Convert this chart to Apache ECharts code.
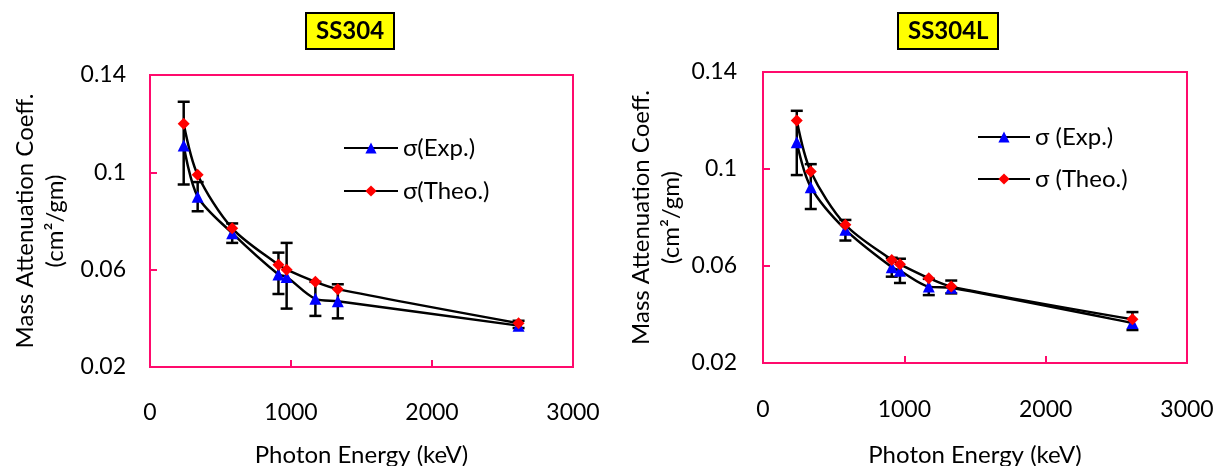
<!DOCTYPE html>
<html>
<head>
<meta charset="utf-8">
<script src="https://cdn.jsdelivr.net/npm/echarts@6/dist/echarts.min.js"></script>
<style>
  html, body { margin: 0; padding: 0; background: #fff; }
  #chart { width: 1221px; height: 466px; }
</style>
</head>
<body>
<div id="chart"></div>
<script>
// photon energies (keV), same for both samples
const energy = [239, 338, 583, 911, 969, 1173, 1332, 2614];

// SS304
const ss304Exp = [0.111, 0.090, 0.075, 0.058, 0.057, 0.048, 0.047, 0.037];
const ss304ExpLow = [0.095, 0.084, 0.071, 0.050, 0.044, 0.041, 0.040, 0.036];
const ss304ExpHigh = [0.129, 0.096, 0.079, 0.067, 0.071, 0.055, 0.054, 0.039];
const ss304Theo = [0.120, 0.099, 0.077, 0.062, 0.060, 0.055, 0.052, 0.038];

// SS304L
const ss304LExp = [0.111, 0.0925, 0.075, 0.0595, 0.058, 0.0515, 0.051, 0.0365];
const ss304LExpLow = [0.0975, 0.0835, 0.0705, 0.0556, 0.053, 0.048, 0.0487, 0.0336];
const ss304LExpHigh = [0.124, 0.102, 0.079, 0.0634, 0.063, 0.0547, 0.054, 0.041];
const ss304LTheo = [0.120, 0.099, 0.077, 0.0625, 0.0607, 0.055, 0.0515, 0.038];

const xTicks = [0, 1000, 2000, 3000];
const yTicks = [0.02, 0.06, 0.1, 0.14];

const pink = '#FF0A6C';
const font = 'Lato';

var myChart = echarts.init(document.getElementById('chart'));

function pairs(ys) {
  return energy.map((e, i) => [e, ys[i]]);
}
function errData(lo, hi) {
  return energy.map((e, i) => [e, lo[i], hi[i]]);
}

// vertical error bar with caps
function errorRender(params, api) {
  const x = api.value(0);
  const top = api.coord([x, api.value(2)]);
  const bot = api.coord([x, api.value(1)]);
  const w = 6;
  const st = { stroke: '#000', lineWidth: 2.5 };
  return {
    type: 'group',
    children: [
      { type: 'line', shape: { x1: top[0], y1: top[1], x2: bot[0], y2: bot[1] }, style: st },
      { type: 'line', shape: { x1: top[0] - w, y1: top[1], x2: top[0] + w, y2: top[1] }, style: st },
      { type: 'line', shape: { x1: bot[0] - w, y1: bot[1], x2: bot[0] + w, y2: bot[1] }, style: st }
    ]
  };
}

function xAxis(idx, nameGap, margin) {
  return {
    gridIndex: idx, type: 'value',
    min: xTicks[0], max: xTicks[xTicks.length - 1], interval: 1000,
    name: 'Photon Energy (keV)', nameLocation: 'middle', nameGap: nameGap,
    nameTextStyle: { fontFamily: font, fontSize: 24, color: '#000' },
    axisLine: { lineStyle: { color: pink, width: 2 } },
    axisTick: { inside: true, length: 7, lineStyle: { color: pink, width: 2 } },
    axisLabel: { fontFamily: font, fontSize: 23, color: '#000', margin: margin, formatter: v => String(v) },
    splitLine: { show: false }
  };
}
function yAxis(idx, nameGap, margin) {
  return {
    gridIndex: idx, type: 'value',
    min: yTicks[0], max: yTicks[yTicks.length - 1], interval: 0.04,
    name: 'Mass Attenuation Coeff.\n(cm\u00B2/gm)', nameLocation: 'middle', nameGap: nameGap,
    nameTextStyle: { fontFamily: font, fontSize: 24, color: '#000', lineHeight: 30 },
    axisLine: { lineStyle: { color: pink, width: 2 } },
    axisTick: { inside: true, length: 7, lineStyle: { color: pink, width: 2 } },
    axisLabel: { fontFamily: font, fontSize: 23, color: '#000', margin: margin },
    splitLine: { show: false }
  };
}

function lineSeries(name, idx, ys, symbol, color, size) {
  return {
    name: name, type: 'line', xAxisIndex: idx, yAxisIndex: idx,
    data: pairs(ys), smooth: 0.3,
    symbol: symbol, symbolSize: size,
    itemStyle: { color: color },
    lineStyle: { color: '#000', width: 2.5 },
    z: 3
  };
}

const titleStyle = { fontFamily: font, fontSize: 24, fontWeight: 'bold', color: '#000' };

var option = {
  backgroundColor: '#fff',
  animation: false,
  title: [
    {
      text: 'SS304', left: 306, top: 13,
      backgroundColor: '#FFFF00', borderColor: '#000', borderWidth: 2,
      padding: [6, 10], textStyle: titleStyle
    },
    {
      text: 'SS304L', left: 898, top: 13,
      backgroundColor: '#FFFF00', borderColor: '#000', borderWidth: 2,
      padding: [6, 10], textStyle: titleStyle
    }
  ],
  legend: [
    {
      data: ['\u03C3(Exp.)', '\u03C3(Theo.)'],
      orient: 'vertical', left: 338, top: 130,
      itemWidth: 54, itemHeight: 14, itemGap: 17,
      textStyle: { fontFamily: font, fontSize: 24, lineHeight: 26, color: '#000' }
    },
    {
      data: ['\u03C3 (Exp.)', '\u03C3 (Theo.)'],
      orient: 'vertical', left: 972, top: 119,
      itemWidth: 52, itemHeight: 14, itemGap: 16,
      textStyle: { fontFamily: font, fontSize: 24, lineHeight: 26, color: '#000' }
    }
  ],
  grid: [
    { left: 150, top: 75, width: 423, height: 292, show: true, borderColor: pink, borderWidth: 2, outerBoundsMode: 'none' },
    { left: 763, top: 72, width: 424, height: 291, show: true, borderColor: pink, borderWidth: 2, outerBoundsMode: 'none' }
  ],
  xAxis: [xAxis(0, 76, 34), xAxis(1, 80, 35)],
  yAxis: [yAxis(0, 80, 24), yAxis(1, 77, 26)],
  series: [
    {
      type: 'custom', xAxisIndex: 0, yAxisIndex: 0,
      data: errData(ss304ExpLow, ss304ExpHigh),
      encode: { x: 0, y: [1, 2] }, renderItem: errorRender, z: 2, silent: true
    },
    {
      type: 'custom', xAxisIndex: 1, yAxisIndex: 1,
      data: errData(ss304LExpLow, ss304LExpHigh),
      encode: { x: 0, y: [1, 2] }, renderItem: errorRender, z: 2, silent: true
    },
    lineSeries('\u03C3(Exp.)', 0, ss304Exp, 'triangle', '#0000FF', 12),
    lineSeries('\u03C3(Theo.)', 0, ss304Theo, 'diamond', '#FF0000', 12),
    lineSeries('\u03C3 (Exp.)', 1, ss304LExp, 'triangle', '#0000FF', 12),
    lineSeries('\u03C3 (Theo.)', 1, ss304LTheo, 'diamond', '#FF0000', 12)
  ]
};
myChart.setOption(option);
</script>
</body>
</html>
